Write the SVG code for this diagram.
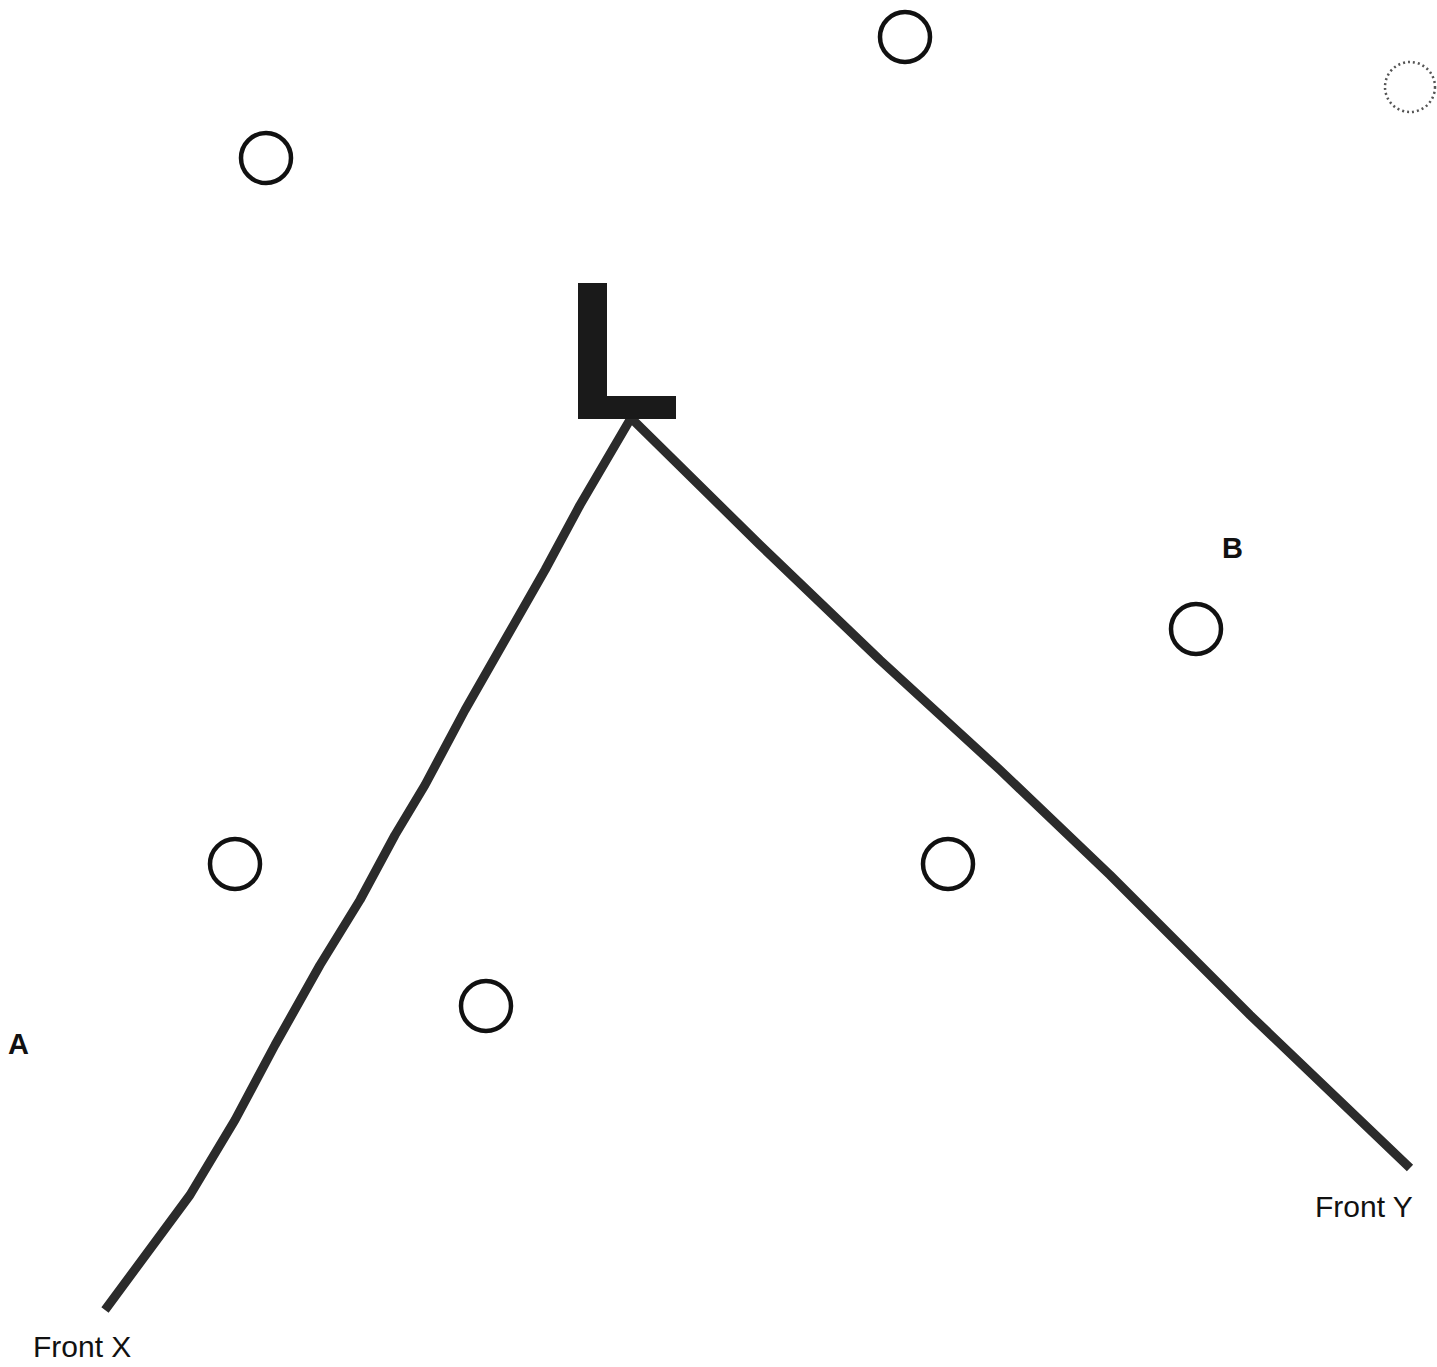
<svg xmlns="http://www.w3.org/2000/svg" width="1437" height="1367" viewBox="0 0 1437 1367">
<style>
.pos{fill:none;stroke:#111;stroke-width:4.5}
.front{fill:none;stroke:#2b2b2b;stroke-width:9;stroke-linecap:butt;stroke-linejoin:round}
.lbl{font-family:"Liberation Sans",Arial,sans-serif;fill:#111}
.bold{font-weight:bold;font-size:29px}
.ft{font-size:30px}
</style>
<rect width="1437" height="1367" fill="#fff"/>
<g id="connectors">
<path class="front" d="M631,418 L580,505 L545,570 L505,640 L465,710 L425,785 L395,835 L360,900 L320,965 L275,1045 L235,1120 L190,1195 L105,1310"/>
<path class="front" d="M631,418 L760,545 L880,660 L1000,770 L1110,875 L1250,1015 L1410,1168"/>
</g>
<g id="L-marker">
<path d="M578,283 H607 V396 H676 V419 H578 Z" fill="#1a1a1a"/>
</g>
<g id="p1"><circle class="pos" cx="905" cy="37" r="25"/></g>
<g id="p2"><circle class="pos" cx="266" cy="158" r="25"/></g>
<g id="p3"><circle class="pos" cx="1196" cy="629" r="25"/></g>
<g id="p4"><circle class="pos" cx="235" cy="864" r="25"/></g>
<g id="p5"><circle class="pos" cx="948" cy="864" r="25"/></g>
<g id="p6"><circle class="pos" cx="486" cy="1006" r="25"/></g>
<g id="smudge"><circle cx="1410" cy="87" r="25" fill="none" stroke="#555" stroke-width="2.5" stroke-dasharray="2 3"/></g>
<g id="labels">
<text class="lbl bold" x="8" y="1054">A</text>
<text class="lbl bold" x="1222" y="558">B</text>
<text class="lbl ft" x="33" y="1357">Front X</text>
<text class="lbl ft" x="1315" y="1217">Front Y</text>
</g>
</svg>
